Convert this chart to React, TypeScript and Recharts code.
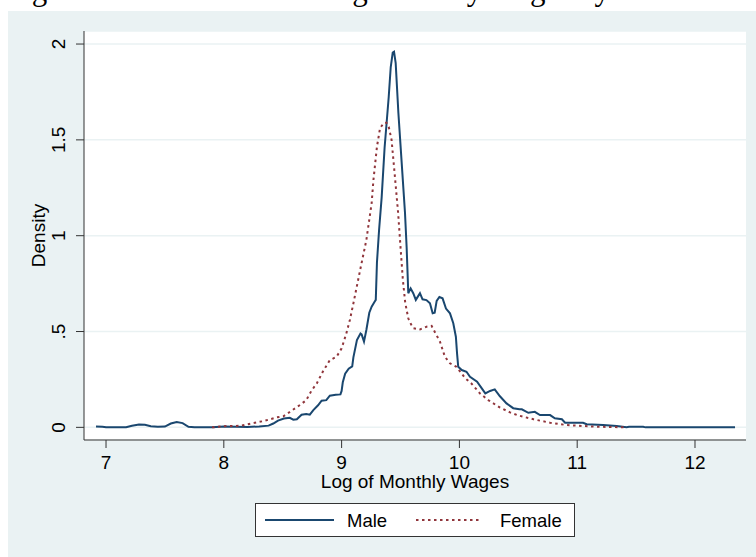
import React from 'react';
import { LineChart, Line, XAxis, YAxis, CartesianGrid, Legend } from 'recharts';

// kernel density estimates
const maleX = [
  6.915, 6.97, 7.0, 7.1, 7.17, 7.22, 7.28, 7.33, 7.38, 7.44, 7.5, 7.55, 7.6, 7.65, 7.7, 7.75,
  7.9, 8.0, 8.1, 8.2, 8.3, 8.38, 8.42, 8.46, 8.51, 8.56, 8.59, 8.62, 8.66, 8.7, 8.73, 8.76,
  8.8, 8.83, 8.87, 8.9, 8.95, 8.99, 9.0, 9.01, 9.03, 9.06, 9.09, 9.1, 9.13, 9.16, 9.17, 9.19,
  9.21, 9.235, 9.255, 9.28, 9.29, 9.3, 9.318, 9.34, 9.365, 9.4, 9.417, 9.434, 9.445, 9.459,
  9.482, 9.51, 9.538, 9.552, 9.566, 9.586, 9.608, 9.63, 9.665, 9.687, 9.72, 9.75, 9.773, 9.79,
  9.807, 9.83, 9.857, 9.886, 9.92, 9.948, 9.97, 9.98, 9.99, 10.02, 10.06, 10.09, 10.15, 10.19,
  10.22, 10.26, 10.3, 10.344, 10.4, 10.457, 10.51, 10.53, 10.585, 10.64, 10.684, 10.77, 10.81,
  10.87, 10.897, 11.05, 11.08, 11.22, 11.335, 11.42, 11.44, 11.56, 11.58, 12.34,
];
const maleY = [
  0.004, 0.003, 0.0, 0.0, 0.001, 0.008, 0.015, 0.014, 0.006, 0.003, 0.004, 0.02, 0.028, 0.022, 0.003, 0.0,
  0.001, 0.004, 0.003, 0.002, 0.005, 0.009, 0.02, 0.035, 0.046, 0.05, 0.04, 0.042, 0.066, 0.07, 0.066, 0.09,
  0.115, 0.139, 0.142, 0.165, 0.17, 0.172, 0.19, 0.235, 0.28, 0.306, 0.318, 0.365, 0.455, 0.49, 0.485, 0.447,
  0.508, 0.598, 0.63, 0.655, 0.665, 0.86, 1.03, 1.2, 1.46, 1.725, 1.88, 1.955, 1.96, 1.9,
  1.64, 1.38, 1.12, 0.94, 0.7, 0.725, 0.7, 0.665, 0.7, 0.668, 0.664, 0.647, 0.595, 0.598,
  0.66, 0.68, 0.673, 0.62, 0.595, 0.543, 0.473, 0.386, 0.316, 0.299, 0.29, 0.264, 0.238, 0.203,
  0.177, 0.19, 0.198, 0.162, 0.125, 0.1, 0.094, 0.094, 0.076, 0.081, 0.064, 0.064, 0.047,
  0.042, 0.024, 0.024, 0.016, 0.012, 0.007, 0.001, 0.003, 0.003, 0.0, 0.0,
];

const femaleX = [
  7.9, 8.03, 8.14, 8.23, 8.34, 8.45, 8.505, 8.56, 8.604, 8.65, 8.7, 8.745, 8.79, 8.84, 8.9, 8.957,
  9.0, 9.04, 9.07, 9.1, 9.157, 9.21, 9.255, 9.27, 9.3, 9.326, 9.355, 9.38, 9.4, 9.424, 9.45, 9.48,
  9.5, 9.52, 9.54, 9.566, 9.595, 9.61, 9.665, 9.72, 9.764, 9.79, 9.835, 9.877, 9.92, 9.975, 10.05,
  10.1, 10.175, 10.245, 10.345, 10.43, 10.5, 10.63, 10.77, 10.91, 11.05, 11.19, 11.42,
];
const femaleY = [
  0.0, 0.007, 0.008, 0.02, 0.033, 0.052, 0.058, 0.08, 0.099, 0.118, 0.142, 0.192, 0.23, 0.29, 0.351, 0.368,
  0.412, 0.49, 0.56, 0.647, 0.82, 0.977, 1.17, 1.29, 1.464, 1.56, 1.586, 1.59, 1.568, 1.5, 1.325, 1.117,
  0.94, 0.77, 0.65, 0.569, 0.53, 0.517, 0.511, 0.525, 0.529, 0.499, 0.447, 0.368, 0.334, 0.316, 0.256,
  0.23, 0.177, 0.142, 0.103, 0.078, 0.062, 0.042, 0.024, 0.012, 0.007, 0.003, 0.0,
];

const xTicks = [7, 8, 9, 10, 11, 12];
const yTicks = [0, 0.5, 1, 1.5, 2];
const yTickLabels = ['0', '.5', '1', '1.5', '2'];

const maleData = maleX.map((x, i) => ({ x, y: maleY[i] }));
const femaleData = femaleX.map((x, i) => ({ x, y: femaleY[i] }));

const NAVY = '#1A476F';
const MAROON = '#90353B';
const BG = '#EAF2F3';
const FONT = '"Liberation Sans", Arial, sans-serif';
const FS = 19;

const YTick = ({ x, y, payload }: any) => {
  const i = yTicks.indexOf(payload.value);
  const bx = x - 9;
  return (
    <text x={bx} y={y} transform={`rotate(-90, ${bx}, ${y})`} textAnchor="middle"
      fontSize={FS} fontFamily={FONT} fill="#000">
      {yTickLabels[i]}
    </text>
  );
};

const XTick = ({ x, y, payload }: any) => (
  <text x={x} y={y + 19} textAnchor="middle" fontSize={FS} fontFamily={FONT} fill="#000">
    {payload.value}
  </text>
);

const renderLegend = () => (
  <div style={{ width: 318, height: 32, border: '1px solid #333', background: '#fff', position: 'relative' }}>
    <svg width={318} height={32} style={{ position: 'absolute', left: 0, top: 0 }}>
      <line x1={9} x2={78} y1={16} y2={16} stroke={NAVY} strokeWidth={2} />
      <text x={91} y={23} fontSize={18.5} fontFamily={FONT}>Male</text>
      <line x1={160} x2={225} y1={16} y2={16} stroke={MAROON} strokeWidth={2} strokeDasharray="2.5 3.5" />
      <text x={244} y={23} fontSize={18.5} fontFamily={FONT}>Female</text>
    </svg>
  </div>
);

export default function App() {
  return (
    <div style={{ position: 'absolute', left: 0, top: 0, width: 756, height: 557, background: '#fff', overflow: 'hidden' }}>
      <svg width={756} height={12} style={{ position: 'absolute', left: 0, top: 0, overflow: 'hidden' }}>
        <text x={6} y={0} fontSize={31} fontFamily='"Liberation Serif", "Times New Roman", serif' fill="#000">
          Figure 1: Distribution of Log Monthly Wages by Gender
        </text>
      </svg>
      <div style={{ position: 'absolute', left: 8, top: 11, width: 748, height: 546, background: BG }} />
      <div style={{ position: 'absolute', left: 0, top: 0 }}>
        <LineChart width={756} height={557} margin={{ top: 31, right: 10, left: 0, bottom: 0 }}>
          <CartesianGrid vertical={false} stroke={BG} strokeWidth={1.5} fill="#fff" fillOpacity={1} />
          <XAxis
            type="number"
            dataKey="x"
            domain={[6.813, 12.433]}
            ticks={xTicks}
            allowDataOverflow
            height={117}
            tickSize={8}
            tickLine={{ stroke: '#333' }}
            axisLine={{ stroke: '#333' }}
            tick={<XTick />}
            label={({ viewBox }: any) => (
              <text x={viewBox.x + viewBox.width / 2} y={viewBox.y + 48} textAnchor="middle" fontSize={FS} fontFamily={FONT} fill="#000">
                Log of Monthly Wages
              </text>
            )}
          />
          <YAxis
            type="number"
            dataKey="y"
            domain={[-0.066, 2.068]}
            ticks={yTicks}
            allowDataOverflow
            width={84}
            tickSize={8}
            tickLine={{ stroke: '#333' }}
            axisLine={{ stroke: '#333' }}
            tick={<YTick />}
            label={({ viewBox }: any) => {
              const cx = viewBox.x + 45;
              const cy = viewBox.y + viewBox.height / 2;
              return (
                <text x={cx} y={cy} transform={`rotate(-90, ${cx}, ${cy})`} textAnchor="middle" fontSize={FS} fontFamily={FONT} fill="#000">
                  Density
                </text>
              );
            }}
          />
          <Legend
            layout="horizontal"
            verticalAlign="middle"
            align="center"
            content={renderLegend}
            wrapperStyle={{ left: 255, top: 503, width: 320, height: 34 }}
          />
          <Line data={maleData} dataKey="y" name="Male" type="linear" stroke={NAVY} strokeWidth={2} dot={false} isAnimationActive={false} />
          <Line data={femaleData} dataKey="y" name="Female" type="linear" stroke={MAROON} strokeWidth={2} strokeDasharray="2.5 3.5" dot={false} isAnimationActive={false} />
        </LineChart>
      </div>
    </div>
  );
}
